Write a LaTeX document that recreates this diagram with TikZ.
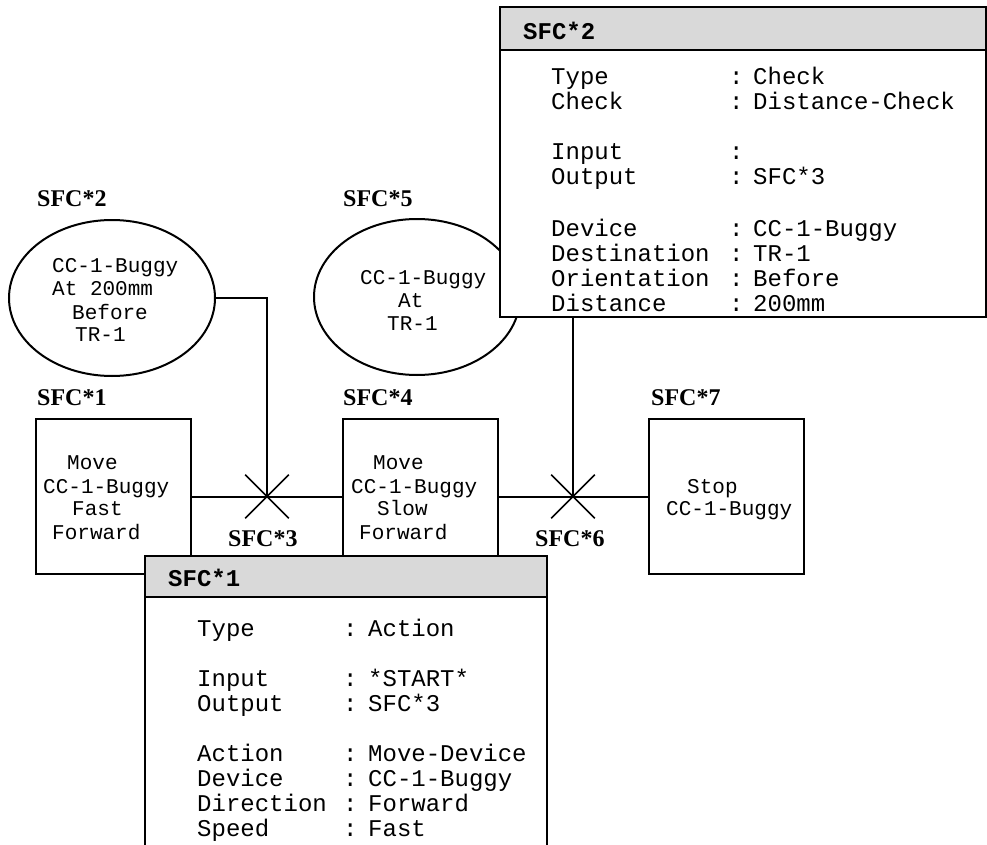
\documentclass[tikz,border=0pt]{standalone}
\usepackage{fontspec}
\setmainfont{Liberation Serif}
\newfontfamily\monofam{Liberation Mono}
\usetikzlibrary{shapes.geometric,shapes.misc}
\tikzset{
  ln/.style={line width=2pt, line cap=rect},
  sfclab/.style={anchor=base west, inner sep=0pt, font=\fontsize{24}{24}\selectfont\bfseries},
  dtxt/.style={anchor=base west, inner sep=0pt, yshift=-7pt, font=\monofam\fontsize{21}{21}\selectfont},
  btxt/.style={anchor=base west, inner sep=0pt, yshift=-8pt, font=\monofam\fontsize{24}{24}\selectfont},
  htxt/.style={anchor=base west, inner sep=0pt, yshift=-8pt, font=\monofam\bfseries\fontsize{24}{24}\selectfont},
  stepbox/.style={draw, line width=2pt, fill=white, minimum width=155pt, minimum height=155pt, inner sep=0pt},
  cond/.style={draw, line width=2pt, ellipse, fill=white, minimum width=206pt, minimum height=156pt, inner sep=0pt},
  trans/.style={draw, line width=1.6pt, cross out, minimum size=42pt, inner sep=0pt},
  detail/.style={draw, line width=2pt, fill=white, inner sep=0pt},
  dhead/.style={draw, line width=2pt, fill=black!15, inner sep=0pt},
}
\begin{document}
\begin{tikzpicture}[x=1pt,y=-1pt]
\useasboundingbox (0,0) rectangle (987,845);
% conditions
\node[cond] (e1) at (112,298) {};
\node[cond] (e2) at (417,297) {};
% steps
\node[stepbox] (b1) at (113.5,496.5) {};
\node[stepbox] (b4) at (420,496.5) {};
\node[stepbox] (b7) at (726.5,496.5) {};
% transitions
\node[trans] (x1) at (267,496.5) {};
\node[trans] (x2) at (573,496.5) {};
% labels
\node[sfclab] (l2) at (37,207) {SFC*2};
\node[sfclab] (l5) at (343,207) {SFC*5};
\node[sfclab] (l1) at (37,405) {SFC*1};
\node[sfclab] (l4) at (343,405) {SFC*4};
\node[sfclab] (l7) at (651,405) {SFC*7};
\node[sfclab] (l3) at (228,546) {SFC*3};
\node[sfclab] (l6) at (535,546) {SFC*6};
% texts in condition 1
\node[dtxt] (e1a) at (52,265) {CC-1-Buggy};
\node[dtxt] (e1b) at (52,288) {At 200mm};
\node[dtxt] (e1c) at (72,312) {Before};
\node[dtxt] (e1d) at (75,334) {TR-1};
% texts in condition 2
\node[dtxt] (e2a) at (360,277) {CC-1-Buggy};
\node[dtxt] (e2b) at (398,300) {At};
\node[dtxt] (e2c) at (387,323) {TR-1};
% step texts
\node[dtxt] (b1a) at (67,462) {Move};
\node[dtxt] (b1b) at (43,486) {CC-1-Buggy};
\node[dtxt] (b1c) at (72,508) {Fast};
\node[dtxt] (b1d) at (52,532) {Forward};
\node[dtxt] (b4a) at (373,462) {Move};
\node[dtxt] (b4b) at (351,486) {CC-1-Buggy};
\node[dtxt] (b4c) at (377,508) {Slow};
\node[dtxt] (b4d) at (359,532) {Forward};
\node[dtxt] (b7a) at (687,486) {Stop};
\node[dtxt] (b7b) at (666,508) {CC-1-Buggy};
% connectors
\draw[ln] (b1.east) -- (b4.west);
\draw[ln] (b4.east) -- (b7.west);
\draw[ln] (e1.east) -| (x1.center);
% detail box SFC*2
\node[detail, minimum width=485.5pt, minimum height=310pt] (d2) at (742.75,162) {};
\node[dhead, minimum width=485.5pt, minimum height=43pt, anchor=north] (d2h) at (d2.north) {};
\node[htxt] (d2t) at (523,32) {SFC*2};
\foreach \y/\k/\v [count=\i] in {77/Type/Check,102/Check/Distance-Check,152/Input/,177/Output/SFC*3,228/Device/CC-1-Buggy,253/Destination/TR-1,278/Orientation/Before,303/Distance/200mm}{
  \node[btxt] (d2k\i) at (551,\y) {\k};
  \node[btxt] (d2c\i) at (729,\y) {:};
  \node[btxt] (d2v\i) at (753,\y) {\v};
}
\draw[ln] (d2.south -| x2) -- (x2.center);
% detail box SFC*1
\node[detail, minimum width=402pt, minimum height=314pt] (d1) at (346,713) {};
\node[dhead, minimum width=402pt, minimum height=41pt, anchor=north] (d1h) at (d1.north) {};
\node[htxt] (d1t) at (168,578) {SFC*1};
\foreach \y/\k/\v [count=\i] in {628/Type/Action,678/Input/*START*,703/Output/SFC*3,753/Action/Move-Device,778/Device/CC-1-Buggy,803/Direction/Forward,828/Speed/Fast}{
  \node[btxt] (d1k\i) at (197,\y) {\k};
  \node[btxt] (d1c\i) at (343,\y) {:};
  \node[btxt] (d1v\i) at (368,\y) {\v};
}
\end{tikzpicture}
\end{document}
